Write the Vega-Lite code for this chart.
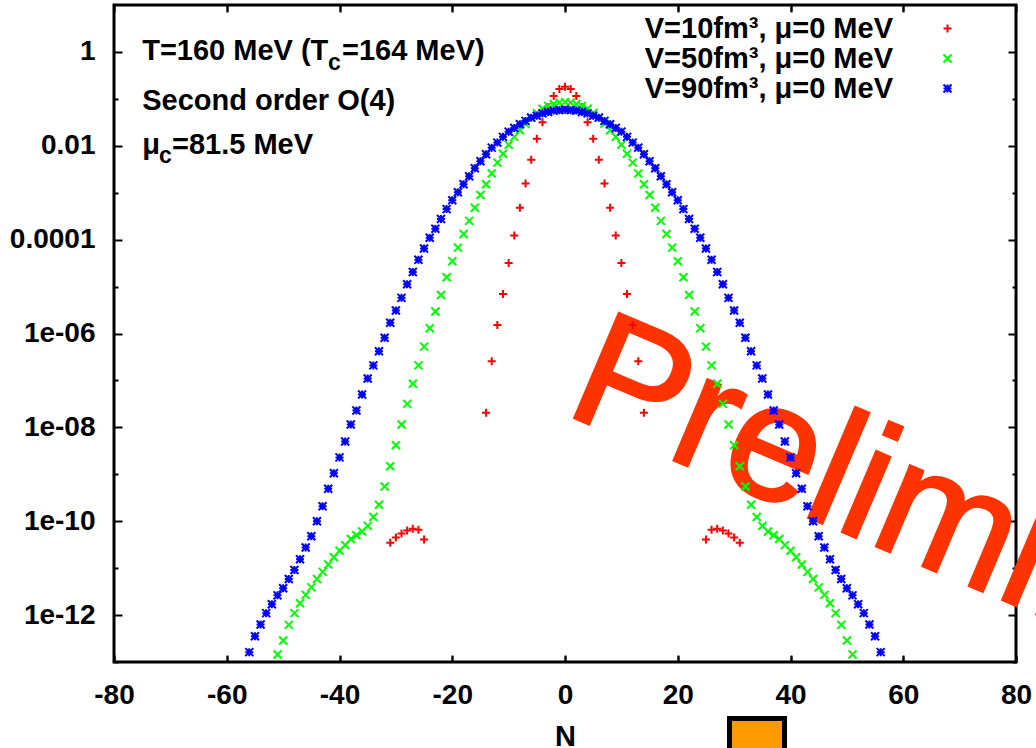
{
  "$schema": "https://vega.github.io/schema/vega-lite/v6.json",
  "width": 902,
  "height": 657,
  "autosize": "none",
  "padding": {"left": 114, "top": 5, "right": 20, "bottom": 86},
  "background": "white",
  "config": {
    "view": {"stroke": "black", "strokeWidth": 3},
    "font": "Liberation Sans",
    "axis": {
      "domain": false,
      "grid": false,
      "ticks": true,
      "zindex": 1,
      "labelFont": "Liberation Sans",
      "labelFontSize": 28,
      "labelFontWeight": "bold",
      "labelColor": "black",
      "tickColor": "#000000",
      "tickOpacity": 1,
      "tickWidth": 2,
      "titleFont": "Liberation Sans",
      "titleFontSize": 29,
      "titleFontWeight": "bold",
      "titleColor": "black"
    },
    "text": {"font": "Liberation Sans", "fontWeight": "bold", "fontSize": 29, "color": "black", "align": "left", "baseline": "alphabetic"}
  },
  "datasets": {
    "dist": [
      {"V": 10, "N": -31, "P": 3.47e-11}, {"V": 10, "N": -30, "P": 4.47e-11}, {"V": 10, "N": -29, "P": 5.50e-11},
      {"V": 10, "N": -28, "P": 6.31e-11}, {"V": 10, "N": -27, "P": 6.92e-11}, {"V": 10, "N": -26, "P": 6.61e-11},
      {"V": 10, "N": -25, "P": 4.07e-11},
      {"V": 10, "N": -14, "P": 2.04e-8}, {"V": 10, "N": -13, "P": 2.57e-7}, {"V": 10, "N": -12, "P": 1.51e-6},
      {"V": 10, "N": -11, "P": 6.92e-6}, {"V": 10, "N": -10, "P": 3.16e-5}, {"V": 10, "N": -9, "P": 1.23e-4},
      {"V": 10, "N": -8, "P": 4.79e-4}, {"V": 10, "N": -7, "P": 1.58e-3}, {"V": 10, "N": -6, "P": 5.01e-3},
      {"V": 10, "N": -5, "P": 1.41e-2}, {"V": 10, "N": -4, "P": 3.16e-2}, {"V": 10, "N": -3, "P": 6.61e-2},
      {"V": 10, "N": -2, "P": 0.115}, {"V": 10, "N": -1, "P": 0.162}, {"V": 10, "N": 0, "P": 0.182},
      {"V": 10, "N": 1, "P": 0.162}, {"V": 10, "N": 2, "P": 0.115}, {"V": 10, "N": 3, "P": 6.61e-2},
      {"V": 10, "N": 4, "P": 3.16e-2}, {"V": 10, "N": 5, "P": 1.41e-2}, {"V": 10, "N": 6, "P": 5.01e-3},
      {"V": 10, "N": 7, "P": 1.58e-3}, {"V": 10, "N": 8, "P": 4.79e-4}, {"V": 10, "N": 9, "P": 1.23e-4},
      {"V": 10, "N": 10, "P": 3.16e-5}, {"V": 10, "N": 11, "P": 6.92e-6}, {"V": 10, "N": 12, "P": 1.51e-6},
      {"V": 10, "N": 13, "P": 2.57e-7}, {"V": 10, "N": 14, "P": 2.04e-8},
      {"V": 10, "N": 25, "P": 4.07e-11}, {"V": 10, "N": 26, "P": 6.61e-11}, {"V": 10, "N": 27, "P": 6.92e-11},
      {"V": 10, "N": 28, "P": 6.31e-11}, {"V": 10, "N": 29, "P": 5.50e-11}, {"V": 10, "N": 30, "P": 4.47e-11},
      {"V": 10, "N": 31, "P": 3.47e-11},

      {"V": 50, "N": -51, "P": 1.45e-13}, {"V": 50, "N": -50, "P": 2.88e-13}, {"V": 50, "N": -49, "P": 6.17e-13},
      {"V": 50, "N": -48, "P": 1.10e-12}, {"V": 50, "N": -47, "P": 1.78e-12}, {"V": 50, "N": -46, "P": 2.69e-12},
      {"V": 50, "N": -45, "P": 3.89e-12}, {"V": 50, "N": -44, "P": 5.89e-12}, {"V": 50, "N": -43, "P": 8.32e-12},
      {"V": 50, "N": -42, "P": 1.20e-11}, {"V": 50, "N": -41, "P": 1.70e-11}, {"V": 50, "N": -40, "P": 2.34e-11},
      {"V": 50, "N": -39, "P": 3.09e-11}, {"V": 50, "N": -38, "P": 4.17e-11}, {"V": 50, "N": -37, "P": 5.01e-11},
      {"V": 50, "N": -36, "P": 6.03e-11}, {"V": 50, "N": -35, "P": 7.94e-11}, {"V": 50, "N": -34, "P": 1.23e-10},
      {"V": 50, "N": -33, "P": 2.24e-10}, {"V": 50, "N": -32, "P": 5.50e-10}, {"V": 50, "N": -31, "P": 1.48e-9},
      {"V": 50, "N": -30, "P": 4.17e-9}, {"V": 50, "N": -29, "P": 1.15e-8}, {"V": 50, "N": -28, "P": 3.16e-8},
      {"V": 50, "N": -27, "P": 8.51e-8}, {"V": 50, "N": -26, "P": 2.09e-7}, {"V": 50, "N": -25, "P": 5.25e-7},
      {"V": 50, "N": -24, "P": 1.29e-6}, {"V": 50, "N": -23, "P": 2.95e-6}, {"V": 50, "N": -22, "P": 6.61e-6},
      {"V": 50, "N": -21, "P": 1.58e-5}, {"V": 50, "N": -20, "P": 3.47e-5}, {"V": 50, "N": -19, "P": 6.76e-5},
      {"V": 50, "N": -18, "P": 1.32e-4}, {"V": 50, "N": -17, "P": 2.51e-4}, {"V": 50, "N": -16, "P": 4.79e-4},
      {"V": 50, "N": -15, "P": 8.91e-4}, {"V": 50, "N": -14, "P": 1.51e-3}, {"V": 50, "N": -13, "P": 2.57e-3},
      {"V": 50, "N": -12, "P": 4.37e-3}, {"V": 50, "N": -11, "P": 6.76e-3}, {"V": 50, "N": -10, "P": 1.05e-2},
      {"V": 50, "N": -9, "P": 1.55e-2}, {"V": 50, "N": -8, "P": 2.14e-2}, {"V": 50, "N": -7, "P": 2.95e-2},
      {"V": 50, "N": -6, "P": 3.98e-2}, {"V": 50, "N": -5, "P": 5.01e-2}, {"V": 50, "N": -4, "P": 6.17e-2},
      {"V": 50, "N": -3, "P": 7.08e-2}, {"V": 50, "N": -2, "P": 7.76e-2}, {"V": 50, "N": -1, "P": 8.32e-2},
      {"V": 50, "N": 0, "P": 8.51e-2},
      {"V": 50, "N": 1, "P": 8.32e-2}, {"V": 50, "N": 2, "P": 7.76e-2}, {"V": 50, "N": 3, "P": 7.08e-2},
      {"V": 50, "N": 4, "P": 6.17e-2}, {"V": 50, "N": 5, "P": 5.01e-2}, {"V": 50, "N": 6, "P": 3.98e-2},
      {"V": 50, "N": 7, "P": 2.95e-2}, {"V": 50, "N": 8, "P": 2.14e-2}, {"V": 50, "N": 9, "P": 1.55e-2},
      {"V": 50, "N": 10, "P": 1.05e-2}, {"V": 50, "N": 11, "P": 6.76e-3}, {"V": 50, "N": 12, "P": 4.37e-3},
      {"V": 50, "N": 13, "P": 2.57e-3}, {"V": 50, "N": 14, "P": 1.51e-3}, {"V": 50, "N": 15, "P": 8.91e-4},
      {"V": 50, "N": 16, "P": 4.79e-4}, {"V": 50, "N": 17, "P": 2.51e-4}, {"V": 50, "N": 18, "P": 1.32e-4},
      {"V": 50, "N": 19, "P": 6.76e-5}, {"V": 50, "N": 20, "P": 3.47e-5}, {"V": 50, "N": 21, "P": 1.58e-5},
      {"V": 50, "N": 22, "P": 6.61e-6}, {"V": 50, "N": 23, "P": 2.95e-6}, {"V": 50, "N": 24, "P": 1.29e-6},
      {"V": 50, "N": 25, "P": 5.25e-7}, {"V": 50, "N": 26, "P": 2.09e-7}, {"V": 50, "N": 27, "P": 8.51e-8},
      {"V": 50, "N": 28, "P": 3.16e-8}, {"V": 50, "N": 29, "P": 1.15e-8}, {"V": 50, "N": 30, "P": 4.17e-9},
      {"V": 50, "N": 31, "P": 1.48e-9}, {"V": 50, "N": 32, "P": 5.50e-10}, {"V": 50, "N": 33, "P": 2.24e-10},
      {"V": 50, "N": 34, "P": 1.23e-10}, {"V": 50, "N": 35, "P": 7.94e-11}, {"V": 50, "N": 36, "P": 6.03e-11},
      {"V": 50, "N": 37, "P": 5.01e-11}, {"V": 50, "N": 38, "P": 4.17e-11}, {"V": 50, "N": 39, "P": 3.09e-11},
      {"V": 50, "N": 40, "P": 2.34e-11}, {"V": 50, "N": 41, "P": 1.70e-11}, {"V": 50, "N": 42, "P": 1.20e-11},
      {"V": 50, "N": 43, "P": 8.32e-12}, {"V": 50, "N": 44, "P": 5.89e-12}, {"V": 50, "N": 45, "P": 3.89e-12},
      {"V": 50, "N": 46, "P": 2.69e-12}, {"V": 50, "N": 47, "P": 1.78e-12}, {"V": 50, "N": 48, "P": 1.10e-12},
      {"V": 50, "N": 49, "P": 6.17e-13}, {"V": 50, "N": 50, "P": 2.88e-13}, {"V": 50, "N": 51, "P": 1.45e-13},

      {"V": 90, "N": -56, "P": 1.62e-13}, {"V": 90, "N": -55, "P": 3.55e-13}, {"V": 90, "N": -54, "P": 6.31e-13},
      {"V": 90, "N": -53, "P": 1.10e-12}, {"V": 90, "N": -52, "P": 1.70e-12}, {"V": 90, "N": -51, "P": 2.63e-12},
      {"V": 90, "N": -50, "P": 3.72e-12}, {"V": 90, "N": -49, "P": 5.89e-12}, {"V": 90, "N": -48, "P": 9.12e-12},
      {"V": 90, "N": -47, "P": 1.55e-11}, {"V": 90, "N": -46, "P": 2.75e-11}, {"V": 90, "N": -45, "P": 4.79e-11},
      {"V": 90, "N": -44, "P": 1.00e-10}, {"V": 90, "N": -43, "P": 2.09e-10}, {"V": 90, "N": -42, "P": 4.90e-10},
      {"V": 90, "N": -41, "P": 1.05e-9}, {"V": 90, "N": -40, "P": 2.29e-9}, {"V": 90, "N": -39, "P": 5.01e-9},
      {"V": 90, "N": -38, "P": 1.15e-8}, {"V": 90, "N": -37, "P": 2.29e-8}, {"V": 90, "N": -36, "P": 5.01e-8},
      {"V": 90, "N": -35, "P": 1.10e-7}, {"V": 90, "N": -34, "P": 2.09e-7}, {"V": 90, "N": -33, "P": 4.17e-7},
      {"V": 90, "N": -32, "P": 8.13e-7}, {"V": 90, "N": -31, "P": 1.70e-6}, {"V": 90, "N": -30, "P": 3.09e-6},
      {"V": 90, "N": -29, "P": 5.75e-6}, {"V": 90, "N": -28, "P": 1.12e-5}, {"V": 90, "N": -27, "P": 2.04e-5},
      {"V": 90, "N": -26, "P": 3.72e-5}, {"V": 90, "N": -25, "P": 6.46e-5}, {"V": 90, "N": -24, "P": 1.10e-4},
      {"V": 90, "N": -23, "P": 1.70e-4}, {"V": 90, "N": -22, "P": 2.75e-4}, {"V": 90, "N": -21, "P": 4.47e-4},
      {"V": 90, "N": -20, "P": 6.92e-4}, {"V": 90, "N": -19, "P": 1.02e-3}, {"V": 90, "N": -18, "P": 1.51e-3},
      {"V": 90, "N": -17, "P": 2.24e-3}, {"V": 90, "N": -16, "P": 3.31e-3}, {"V": 90, "N": -15, "P": 4.68e-3},
      {"V": 90, "N": -14, "P": 6.61e-3}, {"V": 90, "N": -13, "P": 9.12e-3}, {"V": 90, "N": -12, "P": 1.17e-2},
      {"V": 90, "N": -11, "P": 1.55e-2}, {"V": 90, "N": -10, "P": 2.00e-2}, {"V": 90, "N": -9, "P": 2.40e-2},
      {"V": 90, "N": -8, "P": 2.88e-2}, {"V": 90, "N": -7, "P": 3.39e-2}, {"V": 90, "N": -6, "P": 3.98e-2},
      {"V": 90, "N": -5, "P": 4.37e-2}, {"V": 90, "N": -4, "P": 4.90e-2}, {"V": 90, "N": -3, "P": 5.25e-2},
      {"V": 90, "N": -2, "P": 5.62e-2}, {"V": 90, "N": -1, "P": 5.75e-2}, {"V": 90, "N": 0, "P": 5.89e-2},
      {"V": 90, "N": 1, "P": 5.75e-2}, {"V": 90, "N": 2, "P": 5.62e-2}, {"V": 90, "N": 3, "P": 5.25e-2},
      {"V": 90, "N": 4, "P": 4.90e-2}, {"V": 90, "N": 5, "P": 4.37e-2}, {"V": 90, "N": 6, "P": 3.98e-2},
      {"V": 90, "N": 7, "P": 3.39e-2}, {"V": 90, "N": 8, "P": 2.88e-2}, {"V": 90, "N": 9, "P": 2.40e-2},
      {"V": 90, "N": 10, "P": 2.00e-2}, {"V": 90, "N": 11, "P": 1.55e-2}, {"V": 90, "N": 12, "P": 1.17e-2},
      {"V": 90, "N": 13, "P": 9.12e-3}, {"V": 90, "N": 14, "P": 6.61e-3}, {"V": 90, "N": 15, "P": 4.68e-3},
      {"V": 90, "N": 16, "P": 3.31e-3}, {"V": 90, "N": 17, "P": 2.24e-3}, {"V": 90, "N": 18, "P": 1.51e-3},
      {"V": 90, "N": 19, "P": 1.02e-3}, {"V": 90, "N": 20, "P": 6.92e-4}, {"V": 90, "N": 21, "P": 4.47e-4},
      {"V": 90, "N": 22, "P": 2.75e-4}, {"V": 90, "N": 23, "P": 1.70e-4}, {"V": 90, "N": 24, "P": 1.10e-4},
      {"V": 90, "N": 25, "P": 6.46e-5}, {"V": 90, "N": 26, "P": 3.72e-5}, {"V": 90, "N": 27, "P": 2.04e-5},
      {"V": 90, "N": 28, "P": 1.12e-5}, {"V": 90, "N": 29, "P": 5.75e-6}, {"V": 90, "N": 30, "P": 3.09e-6},
      {"V": 90, "N": 31, "P": 1.70e-6}, {"V": 90, "N": 32, "P": 8.13e-7}, {"V": 90, "N": 33, "P": 4.17e-7},
      {"V": 90, "N": 34, "P": 2.09e-7}, {"V": 90, "N": 35, "P": 1.10e-7}, {"V": 90, "N": 36, "P": 5.01e-8},
      {"V": 90, "N": 37, "P": 2.29e-8}, {"V": 90, "N": 38, "P": 1.15e-8}, {"V": 90, "N": 39, "P": 5.01e-9},
      {"V": 90, "N": 40, "P": 2.29e-9}, {"V": 90, "N": 41, "P": 1.05e-9}, {"V": 90, "N": 42, "P": 4.90e-10},
      {"V": 90, "N": 43, "P": 2.09e-10}, {"V": 90, "N": 44, "P": 1.00e-10}, {"V": 90, "N": 45, "P": 4.79e-11},
      {"V": 90, "N": 46, "P": 2.75e-11}, {"V": 90, "N": 47, "P": 1.55e-11}, {"V": 90, "N": 48, "P": 9.12e-12},
      {"V": 90, "N": 49, "P": 5.89e-12}, {"V": 90, "N": 50, "P": 3.72e-12}, {"V": 90, "N": 51, "P": 2.63e-12},
      {"V": 90, "N": 52, "P": 1.70e-12}, {"V": 90, "N": 53, "P": 1.10e-12}, {"V": 90, "N": 54, "P": 6.31e-13},
      {"V": 90, "N": 55, "P": 3.55e-13}, {"V": 90, "N": 56, "P": 1.62e-13}
    ]
  },
  "layer": [
    {
      "data": {"values": [{}]},
      "mark": {"type": "text", "text": "Preliminary", "fontSize": 165, "fontWeight": "normal", "angle": 23, "color": "#ff3300", "stroke": "#ff3300", "strokeWidth": 3},
      "encoding": {
        "x": {"datum": -0.5, "type": "quantitative", "scale": {"domain": [-80, 80], "nice": false, "zero": false}, "axis": null},
        "y": {"datum": 2.04e-8, "type": "quantitative", "scale": {"type": "log", "domain": [1e-13, 10], "nice": false}, "axis": null}
      }
    },
    {
      "data": {"values": [{}]},
      "mark": {"type": "text", "text": "T=160 MeV (T"},
      "encoding": {
        "x": {"datum": -75, "type": "quantitative", "scale": {"domain": [-80, 80], "nice": false, "zero": false}, "axis": null},
        "y": {"datum": 0.673, "type": "quantitative", "scale": {"type": "log", "domain": [1e-13, 10], "nice": false}, "axis": null}
      }
    },
    {
      "data": {"values": [{}]},
      "mark": {"type": "text", "text": "c", "fontSize": 23},
      "encoding": {
        "x": {"datum": -42.04, "type": "quantitative", "scale": {"domain": [-80, 80], "nice": false, "zero": false}, "axis": null},
        "y": {"datum": 0.412, "type": "quantitative", "scale": {"type": "log", "domain": [1e-13, 10], "nice": false}, "axis": null}
      }
    },
    {
      "data": {"values": [{}]},
      "mark": {"type": "text", "text": "=164 MeV)"},
      "encoding": {
        "x": {"datum": -39.56, "type": "quantitative", "scale": {"domain": [-80, 80], "nice": false, "zero": false}, "axis": null},
        "y": {"datum": 0.673, "type": "quantitative", "scale": {"type": "log", "domain": [1e-13, 10], "nice": false}, "axis": null}
      }
    },
    {
      "data": {"values": [{}]},
      "mark": {"type": "text", "text": "Second order O(4)"},
      "encoding": {
        "x": {"datum": -75, "type": "quantitative", "scale": {"domain": [-80, 80], "nice": false, "zero": false}, "axis": null},
        "y": {"datum": 0.0579, "type": "quantitative", "scale": {"type": "log", "domain": [1e-13, 10], "nice": false}, "axis": null}
      }
    },
    {
      "data": {"values": [{}]},
      "mark": {"type": "text", "text": "μ"},
      "encoding": {
        "x": {"datum": -75, "type": "quantitative", "scale": {"domain": [-80, 80], "nice": false, "zero": false}, "axis": null},
        "y": {"datum": 0.00659, "type": "quantitative", "scale": {"type": "log", "domain": [1e-13, 10], "nice": false}, "axis": null}
      }
    },
    {
      "data": {"values": [{}]},
      "mark": {"type": "text", "text": "c", "fontSize": 23},
      "encoding": {
        "x": {"datum": -72.02, "type": "quantitative", "scale": {"domain": [-80, 80], "nice": false, "zero": false}, "axis": null},
        "y": {"datum": 0.0043, "type": "quantitative", "scale": {"type": "log", "domain": [1e-13, 10], "nice": false}, "axis": null}
      }
    },
    {
      "data": {"values": [{}]},
      "mark": {"type": "text", "text": "=81.5 MeV"},
      "encoding": {
        "x": {"datum": -69.71, "type": "quantitative", "scale": {"domain": [-80, 80], "nice": false, "zero": false}, "axis": null},
        "y": {"datum": 0.00659, "type": "quantitative", "scale": {"type": "log", "domain": [1e-13, 10], "nice": false}, "axis": null}
      }
    },
    {
      "data": {"name": "dist"},
      "mark": {"type": "point", "filled": false, "opacity": 1, "size": 64, "strokeWidth": 2},
      "encoding": {
        "x": {
          "field": "N", "type": "quantitative", "title": "N",
          "scale": {"domain": [-80, 80], "nice": false, "zero": false},
          "axis": {
            "orient": "bottom",
            "values": [-80, -60, -40, -20, 0, 20, 40, 60, 80],
            "tickSize": -6,
            "grid": true,
            "gridColor": "#000000",
            "gridOpacity": 1,
            "gridWidth": 2,
            "gridDash": [7, 643, 7, 1000],
            "labelPadding": 47,
            "labelBaseline": "alphabetic",
            "labelFlush": false,
            "labelExpr": "datum.value < 0 ? '-' + abs(datum.value) : '' + datum.value",
            "titleBaseline": "alphabetic",
            "titleY": 83
          }
        },
        "y": {
          "field": "P", "type": "quantitative", "title": null,
          "scale": {"type": "log", "domain": [1e-13, 10], "nice": false},
          "axis": {
            "orient": "left",
            "offset": -8,
            "values": [1e-13, 1e-12, 1e-11, 1e-10, 1e-9, 1e-8, 1e-7, 1e-6, 1e-5, 1e-4, 1e-3, 1e-2, 1e-1, 1],
            "tickSize": 8,
            "tickDash": {"condition": {"test": "abs(round(log(datum.value) / LN10)) % 2 == 1", "value": [0, 4, 4, 10]}, "value": [8, 0]},
            "labelPadding": 19,
            "labelFlush": false,
            "labelExpr": "round(log(datum.value) / LN10) % 2 != 0 ? '' : round(log(datum.value) / LN10) == 0 ? '1' : round(log(datum.value) / LN10) == -2 ? '0.01' : round(log(datum.value) / LN10) == -4 ? '0.0001' : '1e-' + (round(log(datum.value) / LN10) > -10 ? '0' : '') + abs(round(log(datum.value) / LN10))"
          }
        },
        "color": {
          "field": "V", "type": "nominal",
          "scale": {"domain": [10, 50, 90], "range": ["#ff0000", "#00ff00", "#0000ff"]},
          "legend": {
            "orient": "none",
            "legendX": 819,
            "legendY": 9,
            "title": null,
            "padding": 0,
            "rowPadding": -3,
            "labelFont": "Liberation Sans",
            "labelFontSize": 29,
            "labelFontWeight": "bold",
            "labelColor": "black",
            "labelAlign": "right",
            "labelOffset": -69,
            "labelLimit": 600,
            "symbolSize": 64,
            "symbolStrokeWidth": 2,
            "labelExpr": "'V=' + datum.label + 'fm³, μ=0 MeV'"
          }
        },
        "shape": {
          "field": "V", "type": "nominal",
          "scale": {"domain": [10, 50, 90], "range": ["M-1,0L1,0M0,-1L0,1", "M-1,-1L1,1M-1,1L1,-1", "M-1,0L1,0M0,-1L0,1M-1,-1L1,1M-1,1L1,-1"]}
        }
      }
    },
    {
      "data": {"name": "dist"},
      "mark": {"type": "point", "opacity": 0},
      "encoding": {
        "x": {
          "field": "N", "type": "quantitative",
          "scale": {"domain": [-80, 80], "nice": false, "zero": false},
          "axis": {
            "orient": "top",
            "offset": -6,
            "values": [-60, -40, -20, 0, 20, 40, 60],
            "tickSize": 6,
            "labels": false,
            "title": null
          }
        },
        "y": {
          "field": "P", "type": "quantitative",
          "scale": {"type": "log", "domain": [1e-13, 10], "nice": false},
          "axis": {
            "orient": "right",
            "offset": -8,
            "values": [1e-13, 1e-12, 1e-11, 1e-10, 1e-9, 1e-8, 1e-7, 1e-6, 1e-5, 1e-4, 1e-3, 1e-2, 1e-1, 1],
            "tickSize": 8,
            "tickDash": {"condition": {"test": "abs(round(log(datum.value) / LN10)) % 2 == 1", "value": [0, 4, 4, 10]}, "value": [8, 0]},
            "labels": false,
            "title": null
          }
        }
      }
    },
    {
      "data": {"values": [{}]},
      "mark": {"type": "point", "shape": "square", "filled": true, "fill": "#ff9900", "stroke": "black", "strokeWidth": 5, "size": 3025, "opacity": 1, "clip": false},
      "encoding": {
        "x": {"datum": 34.06, "type": "quantitative", "scale": {"domain": [-80, 80], "nice": false, "zero": false}, "axis": null},
        "y": {"datum": 1.62e-15, "type": "quantitative", "scale": {"type": "log", "domain": [1e-13, 10], "nice": false}, "axis": null}
      }
    }
  ]
}
